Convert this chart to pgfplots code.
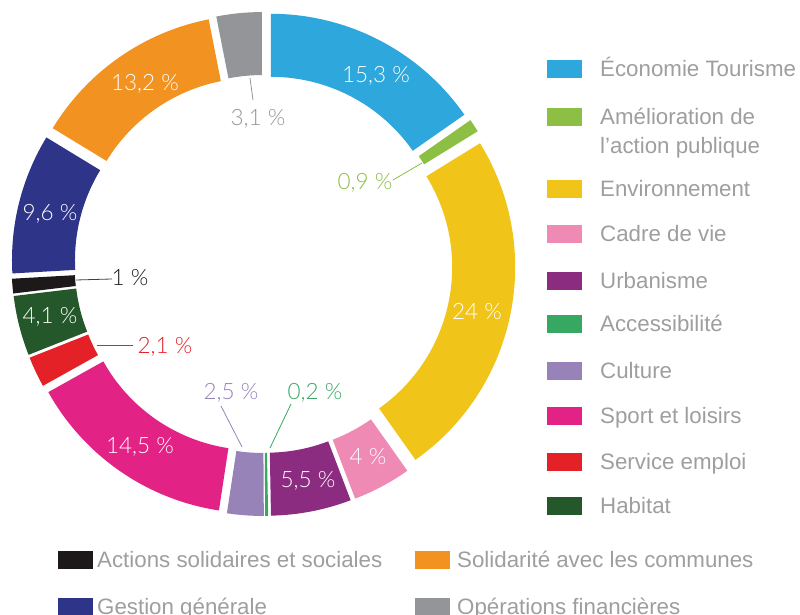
\documentclass[border=0pt]{standalone}
\usepackage{fontspec}
\setmainfont{Liberation Sans}
\IfFontExistsTF{Lato Light}{\newfontfamily\pctfont{Lato Light}}{\newfontfamily\pctfont{Lato}}
\usepackage{pgfplots}
\usepackage{pgfplotstable}
\pgfplotsset{compat=1.18}

\definecolor{cEco}{HTML}{2EA8DC}
\definecolor{cAme}{HTML}{8CBF44}
\definecolor{cEnv}{HTML}{F0C418}
\definecolor{cCad}{HTML}{EE8AB4}
\definecolor{cUrb}{HTML}{8C2C81}
\definecolor{cAcc}{HTML}{37A862}
\definecolor{cCul}{HTML}{9783B8}
\definecolor{cSpo}{HTML}{E32285}
\definecolor{cSer}{HTML}{E42127}
\definecolor{cHab}{HTML}{24582A}
\definecolor{cAct}{HTML}{1D191A}
\definecolor{cGes}{HTML}{2E3488}
\definecolor{cSol}{HTML}{F29220}
\definecolor{cOpe}{HTML}{939598}
\definecolor{legtxt}{RGB}{158,158,158}

% share of each budget line, clockwise from the top
\pgfplotstableread{
v     c
15.3  cEco
0.9   cAme
24    cEnv
4     cCad
5.5   cUrb
0.2   cAcc
2.5   cCul
14.5  cSpo
2.1   cSer
4.1   cHab
1     cAct
9.6   cGes
13.2  cSol
3.1   cOpe
}\piedata

\def\cx{263.5}\def\cy{351}\def\dd{16}\def\ro{236}\def\ri{173}

\begin{document}
\gdef\cumsum{0}%
\foreach \i in {0,...,13}{%
  \pgfplotstablegetelem{\i}{v}\of\piedata
  \let\val\pgfplotsretval
  \pgfplotstablegetelem{\i}{c}\of\piedata
  \let\col\pgfplotsretval
  \pgfmathsetmacro{\aone}{90-3.6*\cumsum}%
  \pgfmathsetmacro{\newcum}{\cumsum+\val}%
  \pgfmathsetmacro{\atwo}{90-3.6*\newcum}%
  \pgfmathsetmacro{\bis}{(\aone+\atwo)/2}%
  \pgfmathsetmacro{\X}{\cx+\dd*cos(\bis)}%
  \pgfmathsetmacro{\Y}{\cy+\dd*sin(\bis)}%
  \pgfmathsetmacro{\xout}{\X+\ro*cos(\aone)}%
  \pgfmathsetmacro{\yout}{\Y+\ro*sin(\aone)}%
  \pgfmathsetmacro{\xin}{\X+\ri*cos(\atwo)}%
  \pgfmathsetmacro{\yin}{\Y+\ri*sin(\atwo)}%
  \xdef\cumsum{\newcum}%
  \expandafter\xdef\csname pa\i\endcsname{\aone}%
  \expandafter\xdef\csname pb\i\endcsname{\atwo}%
  \expandafter\xdef\csname pxo\i\endcsname{\xout}%
  \expandafter\xdef\csname pyo\i\endcsname{\yout}%
  \expandafter\xdef\csname pxi\i\endcsname{\xin}%
  \expandafter\xdef\csname pyi\i\endcsname{\yin}%
  \expandafter\xdef\csname pc\i\endcsname{\col}%
}%
\begin{tikzpicture}
\begin{axis}[x=1pt,y=1pt,xmin=0,xmax=800,ymin=0,ymax=615,hide axis,clip=false,scale only axis]
\pgfplotsinvokeforeach{0,...,13}{%
  \edef\temp{\noexpand\fill[\csname pc#1\endcsname] (axis cs:\csname pxo#1\endcsname,\csname pyo#1\endcsname) arc[start angle=\csname pa#1\endcsname, end angle=\csname pb#1\endcsname, radius=\ro pt] -- (axis cs:\csname pxi#1\endcsname,\csname pyi#1\endcsname) arc[start angle=\csname pb#1\endcsname, end angle=\csname pa#1\endcsname, radius=\ri pt] -- cycle;}%
  \temp
}
% leader lines
\draw[cOpe, line width=0.8pt] (axis cs:250,537) -- (axis cs:253,515);
\draw[cAme, line width=0.8pt] (axis cs:393,435) -- (axis cs:422,452);
\draw[cAcc, line width=0.8pt] (axis cs:291,211) -- (axis cs:270,167);
\draw[cCul, line width=0.8pt] (axis cs:221,209) -- (axis cs:242,168);
\draw[cSer, line width=0.8pt] (axis cs:97,270) -- (axis cs:133,270);
\draw[black!75, line width=0.8pt] (axis cs:76,335) -- (axis cs:112,336);
% percentage labels
\tikzset{pct/.style={font=\pctfont\fontsize{22.5}{26}\selectfont, inner sep=0pt}}
\node[pct, text=white] at (axis cs:376,539) {15,3 \%};
\node[pct, text=cOpe] at (axis cs:258,496) {3,1 \%};
\node[pct, text=cAme] at (axis cs:365,432) {0,9 \%};
\node[pct, text=white] at (axis cs:477,303) {24 \%};
\node[pct, text=white] at (axis cs:368,158) {4 \%};
\node[pct, text=white] at (axis cs:308,134) {5,5 \%};
\node[pct, text=cAcc] at (axis cs:315,222) {0,2 \%};
\node[pct, text=cCul] at (axis cs:231,222) {2,5 \%};
\node[pct, text=white] at (axis cs:140,168) {14,5 \%};
\node[pct, text=cSer] at (axis cs:165,268) {2,1 \%};
\node[pct, text=white] at (axis cs:50,298) {4,1 \%};
\node[pct, text=cAct] at (axis cs:130,337) {1 \%};
\node[pct, text=white] at (axis cs:50,401) {9,6 \%};
\node[pct, text=white] at (axis cs:145,531) {13,2 \%};
% right legend
\tikzset{leg/.style={font=\fontsize{22.3}{26}\selectfont, text=legtxt, inner sep=0pt, anchor=base west}}
\fill[cEco] (axis cs:547,537) rectangle (axis cs:582,555);
\node[leg] at (axis cs:600,538) {Économie Tourisme};
\fill[cAme] (axis cs:547,489) rectangle (axis cs:582,507);
\node[leg] at (axis cs:600,490) {Amélioration de};
\node[leg] at (axis cs:600,461) {l’action publique};
\fill[cEnv] (axis cs:547,417) rectangle (axis cs:582,435);
\node[leg] at (axis cs:600,418) {Environnement};
\fill[cCad] (axis cs:547,372) rectangle (axis cs:582,390);
\node[leg] at (axis cs:600,373) {Cadre de vie};
\fill[cUrb] (axis cs:547,325) rectangle (axis cs:582,343);
\node[leg] at (axis cs:600,326) {Urbanisme};
\fill[cAcc] (axis cs:547,282) rectangle (axis cs:582,300);
\node[leg] at (axis cs:600,283) {Accessibilité};
\fill[cCul] (axis cs:547,235) rectangle (axis cs:582,253);
\node[leg] at (axis cs:600,236) {Culture};
\fill[cSpo] (axis cs:547,190) rectangle (axis cs:582,208);
\node[leg] at (axis cs:600,191) {Sport et loisirs};
\fill[cSer] (axis cs:547,144) rectangle (axis cs:582,162);
\node[leg] at (axis cs:600,145) {Service emploi};
\fill[cHab] (axis cs:547,100) rectangle (axis cs:582,118);
\node[leg] at (axis cs:600,101) {Habitat};
% bottom legend
\fill[cAct] (axis cs:58,46) rectangle (axis cs:93,64);
\node[leg] at (axis cs:97,47) {Actions solidaires et sociales};
\fill[cSol] (axis cs:415,46) rectangle (axis cs:450,64);
\node[leg] at (axis cs:457,47) {Solidarité avec les communes};
\fill[cGes] (axis cs:58,-1) rectangle (axis cs:93,17);
\node[leg] at (axis cs:97,0) {Gestion générale};
\fill[cOpe] (axis cs:415,-1) rectangle (axis cs:450,17);
\node[leg] at (axis cs:457,0) {Opérations financières};
\end{axis}
\pgfresetboundingbox
\path (current axis.south west) rectangle (current axis.north east);
\end{tikzpicture}
\end{document}
